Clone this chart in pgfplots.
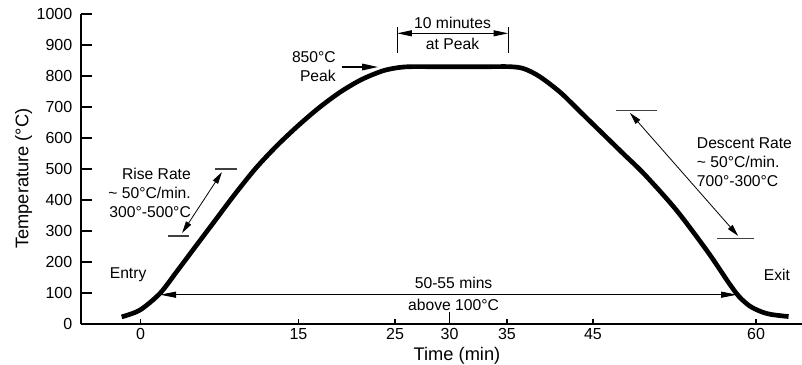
\documentclass[border=0pt]{standalone}
\usepackage{fontspec}
\setmainfont{Liberation Sans}
\usepackage{pgfplots}
\pgfplotsset{compat=1.18}
\usetikzlibrary{arrows.meta}
\newcommand{\annfont}{\fontsize{11.75}{14.2}\selectfont}
\begin{document}
\begin{tikzpicture}
\begin{axis}[
  width=540.75pt, height=232.5pt, scale only axis,
  xmin=-5.686, xmax=62.98, ymin=0, ymax=1000,
  axis x line*=bottom, axis y line*=left,
  axis line style={line width=1.5pt},
  tick align=inside,
  xtick={0,15.02,24.22,29.41,34.88,43.07,58.6},
  xticklabels={0,15,25,30,35,45,60},
  ytick={0,100,...,1000},
  major tick length=8.25pt,
  xtick style={/pgfplots/major tick length=3.75pt, line width=0.9pt, black},
  ytick style={line width=1pt, black},
  tick label style={font=\fontsize{12}{14}\selectfont},
  /pgf/number format/assume math mode=true,
  /pgf/number format/1000 sep={},
  yticklabel style={xshift=-3pt},
  xlabel={Time (min)}, ylabel={Temperature (°C)},
  every axis x label/.style={at={(rel axis cs:0.5215,-0.103)},anchor=center,font=\fontsize{13.7}{16}\selectfont},
  every axis y label/.style={at={(rel axis cs:-0.0797,0.469)},rotate=90,anchor=center,font=\fontsize{13.7}{16}\selectfont},
  clip=false,
]
\addplot[line width=3.5pt, smooth, tension=0.5] coordinates {
(-1.81,23) (-0.07,45) (1.84,99) (3.43,169) (5,240) (7,330) (9,420) (11,504)
(13,576) (15,640) (17,698) (19,748) (21,788) (23,816) (24.5,827) (25.7,830)
(28,830) (30.5,830) (33,830) (35.2,830) (36.5,823.5) (38,798) (40,746) (42,680)
(44,614) (46,548) (48,482) (51,368) (54,233) (56,133) (57,88) (58,58) (59,41)
(60,31) (61.7,24)};

% peak
\draw[-{Triangle[length=12pt,width=5pt]}, line width=0.9pt] (axis cs:19.17,829) -- (axis cs:22.6,829);
\node[anchor=east, align=right, font=\annfont, inner sep=0pt] at (axis cs:18.6,831) {850°C\\Peak};
% 10 minutes
\draw[line width=0.75pt] (axis cs:24.43,958) -- (axis cs:24.43,874);
\draw[line width=0.75pt] (axis cs:35.0,958) -- (axis cs:35.0,874);
\draw[{Triangle[length=11pt,width=4.5pt]}-{Triangle[length=11pt,width=4.5pt]}, line width=0.75pt] (axis cs:24.43,937.7) -- (axis cs:35.0,937.7);
\node[font=\annfont] at (axis cs:29.7,972) {10 minutes};
\node[font=\annfont] at (axis cs:29.7,905) {at Peak};
% rise
\draw[line width=0.9pt, black!75] (axis cs:7.08,500) -- (axis cs:9.17,500);
\draw[line width=0.9pt, black!75] (axis cs:2.6,284) -- (axis cs:4.6,284);
\draw[{Triangle[length=9pt,width=4.5pt]}-{Triangle[length=9pt,width=4.5pt]}, line width=0.6pt] (axis cs:3.94,293.5) -- (axis cs:7.74,490);
\node[anchor=east, align=right, font=\annfont, inner sep=0pt] at (axis cs:4.8,423) {Rise Rate\\\textasciitilde{} 50°C/min.\\300°-500°C};
% descent
\draw[line width=0.9pt, black!75] (axis cs:45.3,688) -- (axis cs:49.2,688);
\draw[line width=0.9pt, black!75] (axis cs:54.9,275) -- (axis cs:58.4,275);
\draw[{Triangle[length=9pt,width=4.5pt]}-{Triangle[length=9pt,width=4.5pt]}, line width=0.6pt] (axis cs:46.6,681) -- (axis cs:56.9,284);
\node[anchor=west, align=left, font=\annfont, inner sep=0pt] at (axis cs:52.95,521) {Descent Rate\\\textasciitilde{} 50°C/min.\\700°-300°C};
% entry / exit
\node[font=\annfont] at (axis cs:-1.2,158) {Entry};
\node[font=\annfont] at (axis cs:60.6,158) {Exit};
% 50-55 mins
\draw[{Triangle[length=12pt,width=4.5pt]}-{Triangle[length=12pt,width=4.5pt]}, line width=0.8pt] (axis cs:1.84,94.5) -- (axis cs:56.8,94.5);
\node[font=\annfont] at (axis cs:29.8,131) {50-55 mins};
\node[font=\annfont] at (axis cs:29.8,61) {above 100°C};
\draw[line width=0.9pt] (axis cs:29.41,0) -- (axis cs:29.41,39);
% bounding box
\coordinate (bbll) at (rel axis cs:-0.11234,-0.12903);
\coordinate (bbur) at (rel axis cs:1.0,1.04516);
\end{axis}
\pgfresetboundingbox
\useasboundingbox (bbll) rectangle (bbur);
\end{tikzpicture}
\end{document}
